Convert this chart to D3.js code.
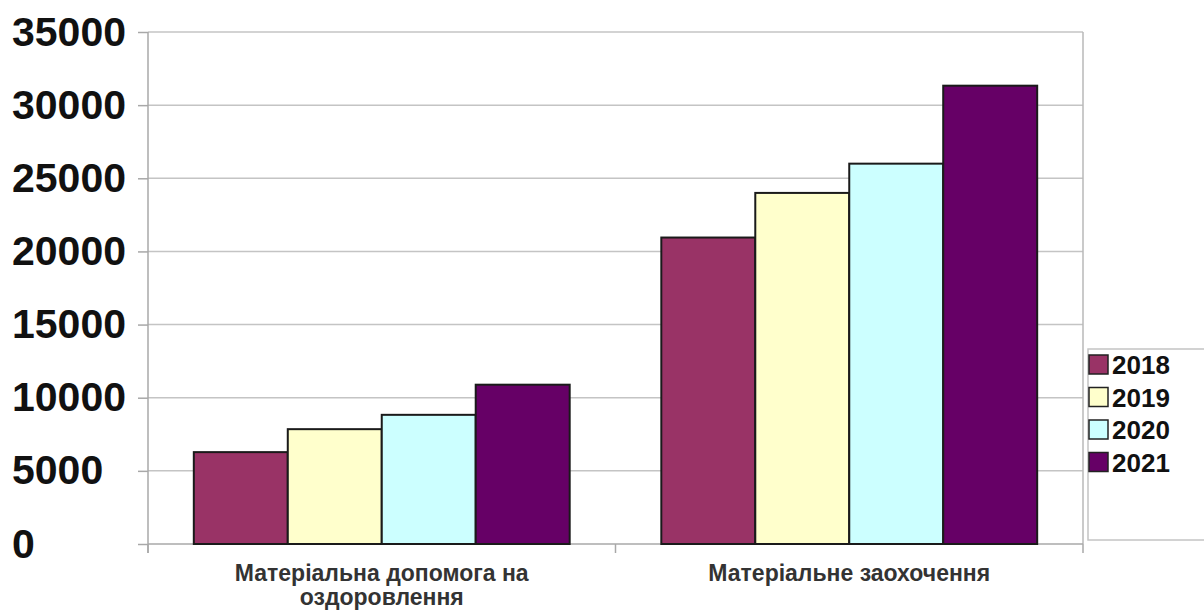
<!DOCTYPE html>
<html>
<head>
<meta charset="utf-8">
<script src="https://cdn.jsdelivr.net/npm/d3@7"></script>
<style>
  body { margin: 0; background: #fff; }
  svg { display: block; font-family: "Liberation Sans", Arial, sans-serif; }
</style>
</head>
<body>
<svg id="chart" width="1204" height="610"></svg>
<script>
const categories = ["Матеріальна допомога на оздоровлення", "Матеріальне заохочення"];
const categoryLines = [["Матеріальна допомога на", "оздоровлення"], ["Матеріальне заохочення"]];
const years = ["2018", "2019", "2020", "2021"];
const values2018 = [6280, 20950];
const values2019 = [7850, 24000];
const values2020 = [8830, 26000];
const values2021 = [10890, 31330];
const yTicks = [0, 5000, 10000, 15000, 20000, 25000, 30000, 35000];
const colors = ["#993366", "#ffffcc", "#ccffff", "#660066"];

const series = [values2018, values2019, values2020, values2021];

const plot = { left: 148, right: 1083, top: 32, bottom: 544 };
const svg = d3.select("#chart");

const x0 = d3.scaleBand().domain(categories).range([plot.left, plot.right]);
const gap = x0.bandwidth() * 0.098;
const x1 = d3.scaleBand().domain(years).range([gap, x0.bandwidth() - gap]);
const y = d3.scaleLinear().domain([0, 35000]).range([plot.bottom, plot.top]);

// gridlines
svg.append("g")
  .selectAll("line")
  .data(yTicks.slice(1))
  .join("line")
  .attr("x1", plot.left)
  .attr("x2", plot.right)
  .attr("y1", d => y(d))
  .attr("y2", d => y(d))
  .attr("stroke", "#c4c4c4")
  .attr("stroke-width", 1.5);

// right border of plot
svg.append("line")
  .attr("x1", plot.right).attr("x2", plot.right)
  .attr("y1", plot.top).attr("y2", plot.bottom)
  .attr("stroke", "#b8b8b8").attr("stroke-width", 1.5);

// y axis
const yAxis = svg.append("g")
  .attr("transform", `translate(${plot.left},0)`)
  .call(d3.axisLeft(y).tickValues(yTicks).tickSize(10).tickFormat(d3.format("d")));
yAxis.select(".domain").remove();
yAxis.selectAll(".tick line").attr("stroke", "#a8a8a8").attr("stroke-width", 1.5);
yAxis.selectAll(".tick text")
  .attr("x", 12 - plot.left)
  .attr("text-anchor", "start")
  .attr("fill", "#111")
  .attr("font-size", 41)
  .attr("font-weight", "bold")
  .attr("font-family", "'Liberation Sans', Arial, sans-serif");
svg.append("line")
  .attr("x1", plot.left).attr("x2", plot.left)
  .attr("y1", plot.top).attr("y2", plot.bottom + 9)
  .attr("stroke", "#a8a8a8").attr("stroke-width", 1.5);

// x axis
svg.append("line")
  .attr("x1", plot.left).attr("x2", plot.right)
  .attr("y1", plot.bottom).attr("y2", plot.bottom)
  .attr("stroke", "#a8a8a8").attr("stroke-width", 1.5);
const xTickPos = categories.map(c => x0(c)).concat([plot.right]);
svg.append("g")
  .selectAll("line")
  .data(xTickPos)
  .join("line")
  .attr("x1", d => d).attr("x2", d => d)
  .attr("y1", plot.bottom).attr("y2", plot.bottom + 9)
  .attr("stroke", "#a8a8a8").attr("stroke-width", 1.5);

// category labels
categories.forEach((c, i) => {
  const t = svg.append("text")
    .attr("x", x0(c) + x0.bandwidth() / 2)
    .attr("y", 581)
    .attr("text-anchor", "middle")
    .attr("font-size", 23)
    .attr("font-weight", "bold")
    .attr("fill", "#333");
  categoryLines[i].forEach((line, j) => {
    t.append("tspan")
      .attr("x", x0(c) + x0.bandwidth() / 2)
      .attr("dy", j === 0 ? 0 : 24)
      .text(line);
  });
});

// bars
const groups = svg.append("g")
  .selectAll("g")
  .data(categories)
  .join("g")
  .attr("transform", d => `translate(${x0(d)},0)`);

groups.selectAll("rect")
  .data((c, i) => years.map((yr, k) => ({ year: yr, value: series[k][i], color: colors[k] })))
  .join("rect")
  .attr("x", d => x1(d.year))
  .attr("width", x1.bandwidth())
  .attr("y", d => y(d.value))
  .attr("height", d => y(0) - y(d.value))
  .attr("fill", d => d.color)
  .attr("stroke", "#1a1a1a")
  .attr("stroke-width", 2);

// legend
const legend = svg.append("g");
legend.append("rect")
  .attr("x", 1088).attr("y", 349)
  .attr("width", 130).attr("height", 191)
  .attr("fill", "#fff")
  .attr("stroke", "#c4c4c4").attr("stroke-width", 1.5);
const items = legend.selectAll("g.item")
  .data(years)
  .join("g")
  .attr("class", "item")
  .attr("transform", (d, i) => `translate(1089,${355 + i * 32.5})`);
items.append("rect")
  .attr("width", 19).attr("height", 19)
  .attr("fill", (d, i) => colors[i])
  .attr("stroke", "#222").attr("stroke-width", 1.5);
items.append("text")
  .attr("x", 23)
  .attr("y", 10)
  .attr("dy", "0.36em")
  .attr("font-size", 26)
  .attr("font-weight", "bold")
  .attr("fill", "#111")
  .text(d => d);
</script>
</body>
</html>
